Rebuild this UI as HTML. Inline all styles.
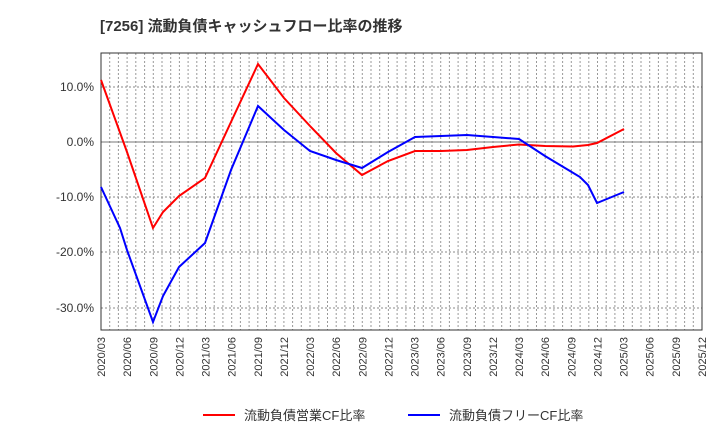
<!DOCTYPE html>
<html><head><meta charset="utf-8"><style>body{margin:0;background:#fff}svg{display:block}text{font-family:"Liberation Sans","Noto Sans CJK JP",sans-serif}</style></head><body>
<svg width="720" height="440" xmlns="http://www.w3.org/2000/svg">
<text x="100" y="31" font-size="15" font-weight="bold" fill="#333">[7256]  流動負債キャッシュフロー比率の推移</text>
<path stroke="#999" stroke-dasharray="2,2" stroke-width="1" fill="none" d="M109.7 53V330M118.4 53V330M127.1 53V330M135.8 53V330M144.6 53V330M153.3 53V330M162 53V330M170.7 53V330M179.4 53V330M188.1 53V330M196.8 53V330M205.5 53V330M214.2 53V330M222.9 53V330M231.7 53V330M240.4 53V330M249.1 53V330M257.8 53V330M266.5 53V330M275.2 53V330M283.9 53V330M292.6 53V330M301.3 53V330M310 53V330M318.8 53V330M327.5 53V330M336.2 53V330M344.9 53V330M353.6 53V330M362.3 53V330M371 53V330M379.7 53V330M388.4 53V330M397.1 53V330M405.9 53V330M414.6 53V330M423.3 53V330M432 53V330M440.7 53V330M449.4 53V330M458.1 53V330M466.8 53V330M475.5 53V330M484.2 53V330M493 53V330M501.7 53V330M510.4 53V330M519.1 53V330M527.8 53V330M536.5 53V330M545.2 53V330M553.9 53V330M562.6 53V330M571.3 53V330M580.1 53V330M588.8 53V330M597.5 53V330M606.2 53V330M614.9 53V330M623.6 53V330M632.3 53V330M641 53V330M649.7 53V330M658.4 53V330M667.2 53V330M675.9 53V330M684.6 53V330M693.3 53V330"/>
<g stroke="#888" stroke-dasharray="2,2">
<line x1="101" y1="87" x2="702" y2="87"/><line x1="101" y1="197" x2="702" y2="197"/><line x1="101" y1="252" x2="702" y2="252"/><line x1="101" y1="308" x2="702" y2="308"/>
</g>
<line x1="101" y1="142" x2="702" y2="142" stroke="#777" stroke-width="1"/>
<rect x="101" y="53" width="601" height="277" fill="none" stroke="#333" stroke-width="1"/>
<g font-size="12" fill="#333" text-anchor="end">
<text x="94" y="91">10.0%</text><text x="94" y="146">0.0%</text><text x="94" y="201">-10.0%</text><text x="94" y="256">-20.0%</text><text x="94" y="312">-30.0%</text>
</g>
<g font-size="11" fill="#333" text-anchor="end">
<text transform="translate(105,337) rotate(-90)">2020/03</text>
<text transform="translate(131.1,337) rotate(-90)">2020/06</text>
<text transform="translate(157.3,337) rotate(-90)">2020/09</text>
<text transform="translate(183.4,337) rotate(-90)">2020/12</text>
<text transform="translate(209.5,337) rotate(-90)">2021/03</text>
<text transform="translate(235.7,337) rotate(-90)">2021/06</text>
<text transform="translate(261.8,337) rotate(-90)">2021/09</text>
<text transform="translate(287.9,337) rotate(-90)">2021/12</text>
<text transform="translate(314,337) rotate(-90)">2022/03</text>
<text transform="translate(340.2,337) rotate(-90)">2022/06</text>
<text transform="translate(366.3,337) rotate(-90)">2022/09</text>
<text transform="translate(392.4,337) rotate(-90)">2022/12</text>
<text transform="translate(418.6,337) rotate(-90)">2023/03</text>
<text transform="translate(444.7,337) rotate(-90)">2023/06</text>
<text transform="translate(470.8,337) rotate(-90)">2023/09</text>
<text transform="translate(497,337) rotate(-90)">2023/12</text>
<text transform="translate(523.1,337) rotate(-90)">2024/03</text>
<text transform="translate(549.2,337) rotate(-90)">2024/06</text>
<text transform="translate(575.3,337) rotate(-90)">2024/09</text>
<text transform="translate(601.5,337) rotate(-90)">2024/12</text>
<text transform="translate(627.6,337) rotate(-90)">2025/03</text>
<text transform="translate(653.7,337) rotate(-90)">2025/06</text>
<text transform="translate(679.9,337) rotate(-90)">2025/09</text>
<text transform="translate(706,337) rotate(-90)">2025/12</text>
</g>
<polyline fill="none" stroke="#f00" stroke-width="2" points="101,80 127,152 153,228 163,212 179,196 205,178 231,122 258,64 284,98 310,126 336,153 362,175 388,161 415,151 441,151 467,150 493,147 519,144.5 545,146 573,146.5 588,145 597,143 624,129"/>
<polyline fill="none" stroke="#00f" stroke-width="2" points="101,187 120,228 127,250 153,322 163,296 179,267 205,243 231,170 258,106 284,130 310,151 336,160 362,168 388,152 415,137 441,136 467,135 493,137 519,139 545,156 570,171 580,177 588,185 597,203 624,192"/>
<line x1="203" y1="415" x2="235" y2="415" stroke="#f00" stroke-width="2"/>
<text x="244" y="420" font-size="13" fill="#333">流動負債営業CF比率</text>
<line x1="408" y1="415" x2="440" y2="415" stroke="#00f" stroke-width="2"/>
<text x="449" y="420" font-size="13" fill="#333">流動負債フリーCF比率</text>
</svg>
</body></html>
